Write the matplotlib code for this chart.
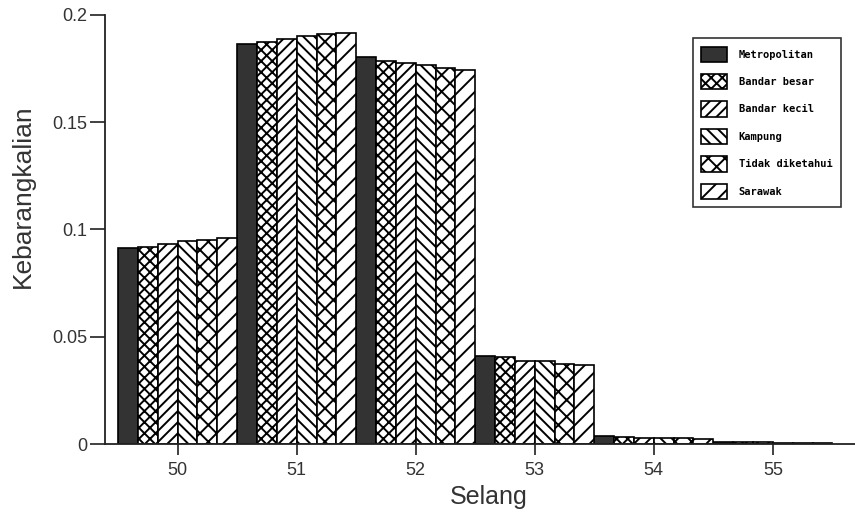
import numpy as np
import matplotlib
matplotlib.use('Agg')
import matplotlib.pyplot as plt

plt.rcParams['font.family'] = ['Liberation Sans', 'DejaVu Sans']
plt.rcParams['hatch.linewidth'] = 1.4

# kategori selang dan siri
selang = [50, 51, 52, 53, 54, 55]
kawasan = ['Metropolitan', 'Bandar besar', 'Bandar kecil', 'Kampung', 'Tidak diketahui', 'Sarawak']

metropolitan = [0.0914, 0.1865, 0.1804, 0.0410, 0.0037, 0.0010]
bandar_besar = [0.0918, 0.1874, 0.1787, 0.0404, 0.0031, 0.0009]
bandar_kecil = [0.0932, 0.1888, 0.1778, 0.0388, 0.0030, 0.0008]
kampung = [0.0945, 0.1900, 0.1767, 0.0385, 0.0030, 0.0007]
tidak_diketahui = [0.0951, 0.1911, 0.1752, 0.0372, 0.0029, 0.0006]
sarawak = [0.0962, 0.1918, 0.1744, 0.0367, 0.0022, 0.0005]

siri = [metropolitan, bandar_besar, bandar_kecil, kampung, tidak_diketahui, sarawak]
hatches = ['', 'xxx', '///', '\\\\\\', 'xx', '//']
warna = ['#333333', 'white', 'white', 'white', 'white', 'white']

fig = plt.figure(figsize=(8.55, 5.16), dpi=100)
ax = fig.add_axes([0.1228, 0.1395, 0.8772, 0.8315])

x = np.array(selang, dtype=float)
w = 1 / 6
for i, (vals, h, c, lab) in enumerate(zip(siri, hatches, warna, kawasan)):
    ax.bar(x - 0.5 + w * (i + 0.5), vals, width=w, color=c, edgecolor='black',
           hatch=h, linewidth=1.2, label=lab)

ax.set_xlim(49.39, 55.69)
ax.set_ylim(0, 0.2)
ax.set_xticks(selang)
ax.set_yticks([0, 0.05, 0.1, 0.15, 0.2])
ax.set_yticklabels(['0', '0.05', '0.1', '0.15', '0.2'])
ax.spines['top'].set_visible(False)
ax.spines['right'].set_visible(False)
for s in ['left', 'bottom']:
    ax.spines[s].set_linewidth(1.3)
    ax.spines[s].set_color('#222222')
ax.tick_params(axis='both', labelsize=13, colors='#333333', width=1.3, direction='out')
ax.tick_params(axis='y', length=11, pad=2)
ax.tick_params(axis='x', length=8, pad=5)
ax.set_xlabel('Selang', fontsize=18, color='#333333')
ax.set_ylabel('Kebarangkalian', fontsize=19, color='#333333')
ax.xaxis.set_label_coords(0.512, -0.095)
ax.yaxis.set_label_coords(-0.093, 0.578)

leg = ax.legend(loc='upper right', bbox_to_anchor=(0.988, 0.958),
                prop={'family': 'DejaVu Sans Mono', 'size': 7.5, 'weight': 'bold'},
                frameon=True, fancybox=False, edgecolor='black', handlelength=2.5,
                handleheight=1.9, labelspacing=1.15, borderpad=0.8, handletextpad=1.1)
leg.get_frame().set_linewidth(1.2)

fig.savefig('out.png', dpi=100)
